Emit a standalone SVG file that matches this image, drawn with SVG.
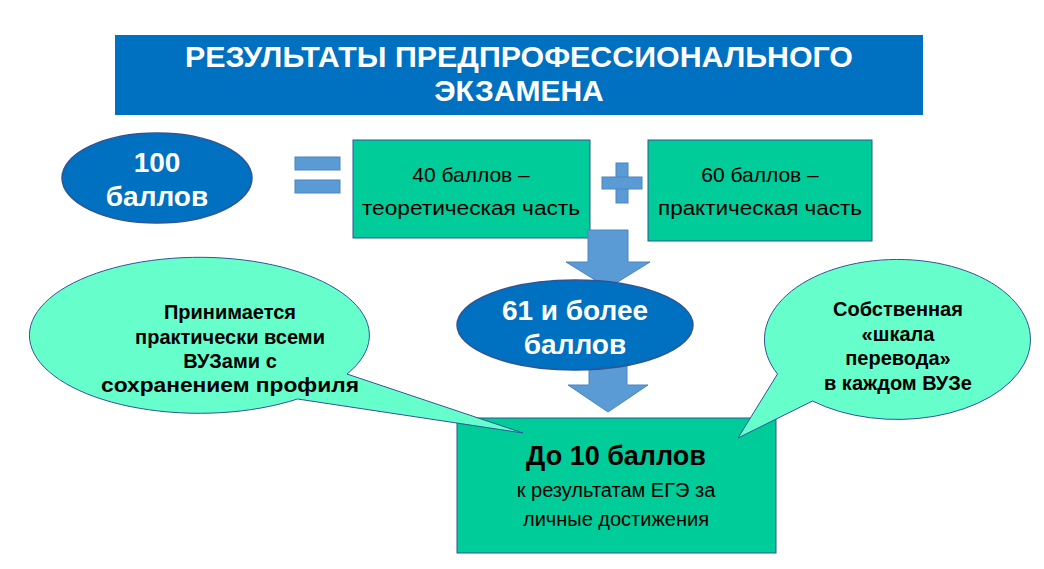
<svg xmlns="http://www.w3.org/2000/svg" width="1044" height="569" viewBox="0 0 1044 569">
<style>
.w{fill:#fff;font-family:"Liberation Sans",Arial,sans-serif;font-weight:bold;text-anchor:middle}
.b{fill:#000;font-family:"Liberation Sans",Arial,sans-serif;text-anchor:middle}
.bb{fill:#000;font-family:"Liberation Sans",Arial,sans-serif;font-weight:bold;text-anchor:middle}
.box{fill:#00CC99;stroke:#2F5597;stroke-width:1}
.ell{fill:#0070C0;stroke:#2F5597;stroke-width:1.5}
.call{fill:#66FFCC;stroke:#2F5597;stroke-width:1}
.sym{fill:#5B9BD5;stroke:#4A86C0;stroke-width:1}
</style>
<rect width="1044" height="569" fill="#fff"/>
<g id="title"><rect x="115" y="35" width="808" height="80" fill="#0070C0"/>
<text class="w" font-size="30" x="519" y="67" textLength="668" lengthAdjust="spacingAndGlyphs">РЕЗУЛЬТАТЫ ПРЕДПРОФЕССИОНАЛЬНОГО</text>
<text class="w" font-size="30" x="519" y="101">ЭКЗАМЕНА</text></g>
<g id="n100"><ellipse class="ell" cx="157" cy="178" rx="95" ry="45"/>
<text class="w" font-size="28" x="157" y="172">100</text><text class="w" font-size="28" x="157" y="206">баллов</text></g>
<g id="eq"><rect class="sym" x="295" y="157" width="45" height="13"/><rect class="sym" x="295" y="180" width="45" height="13"/></g>
<g id="box1"><rect class="box" x="353" y="140" width="237" height="98"/>
<text class="b" font-size="21" x="471" y="182">40 баллов –</text><text class="b" font-size="21" x="471" y="215" textLength="218" lengthAdjust="spacingAndGlyphs">теоретическая часть</text></g>
<g id="plus"><rect class="sym" x="616" y="163" width="12" height="40"/><rect class="sym" x="602" y="177" width="40" height="12"/></g>
<g id="box2"><rect class="box" x="648" y="140" width="224" height="101"/>
<text class="b" font-size="21" x="760" y="182">60 баллов –</text><text class="b" font-size="21" x="760" y="215" textLength="204" lengthAdjust="spacingAndGlyphs">практическая часть</text></g>
<g id="connectors">
<polygon class="sym" points="588,230 628,230 628,262 650,262 608,288 566,262 588,262"/>
<polygon class="sym" points="589,362 627,362 627,385 648,385 608,412 568,385 589,385"/>
</g>
<g id="n61"><ellipse class="ell" cx="575" cy="325" rx="118" ry="45"/>
<text class="w" font-size="28" x="575" y="320">61 и более</text><text class="w" font-size="28" x="575" y="354">баллов</text></g>
<g id="bottom"><rect class="box" x="457" y="418" width="319" height="135"/>
<text class="bb" font-size="27" x="616" y="465">До 10 баллов</text>
<text class="b" font-size="20" x="616" y="497">к результатам ЕГЭ за</text>
<text class="b" font-size="20" x="616" y="526">личные достижения</text></g>
<g id="left"><path class="call" d="M297.5 399 A170 78 0 1 1 347 374 L523 433 Z"/>
<text class="bb" font-size="20" x="230" y="319">Принимается</text>
<text class="bb" font-size="20" x="230" y="344">практически  всеми</text>
<text class="bb" font-size="20" x="230" y="368">ВУЗами с</text>
<text class="bb" font-size="20" x="230" y="392" textLength="258" lengthAdjust="spacingAndGlyphs">сохранением  профиля</text></g>
<g id="right"><path class="call" d="M777.5 374 A133 80 0 1 1 812.5 401 L738 438 Z"/>
<text class="bb" font-size="20" x="898" y="316">Собственная</text>
<text class="bb" font-size="20" x="898" y="341">«шкала</text>
<text class="bb" font-size="20" x="898" y="365">перевода»</text>
<text class="bb" font-size="20" x="898" y="390">в каждом ВУЗе</text></g>
</svg>
